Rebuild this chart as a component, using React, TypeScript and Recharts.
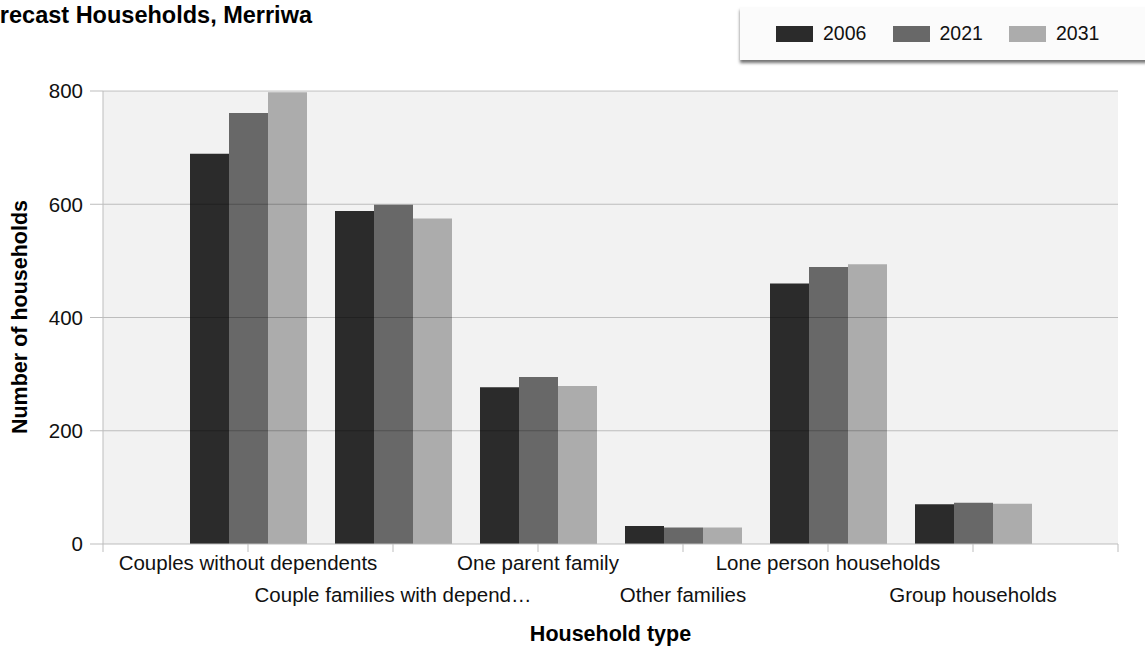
import React from 'react';
import { BarChart, Bar, XAxis, YAxis, CartesianGrid, ReferenceLine, Legend } from 'recharts';

const categories = [
  'Couples without dependents',
  'Couple families with depend…',
  'One parent family',
  'Other families',
  'Lone person households',
  'Group households',
];
const values2006 = [689, 588, 277, 32, 460, 70];
const values2021 = [761, 599, 295, 29, 489, 73];
const values2031 = [798, 575, 279, 29, 494, 71];
const seriesKeys = ['s2006', 's2021', 's2031'];
const seriesNames = ['2006', '2021', '2031'];
const seriesColors = ['#2b2b2b', '#686868', '#acacac'];
const yTicks = [0, 200, 400, 600, 800];
const gridValues = [200, 400, 600, 800];

const data = categories.map((name, i) => ({
  name,
  s2006: values2006[i],
  s2021: values2021[i],
  s2031: values2031[i],
}));

const FONT = "'Liberation Sans', Arial, sans-serif";
const W = 1145;
const H = 648;
const STEP = 145;

const XTick = (props: any) => {
  const { x, y, payload, index } = props;
  const row = index % 2;
  const last = index === categories.length - 1;
  return (
    <g>
      {index === 0 && (
        <line x1={x - STEP} x2={x - STEP} y1={y - 11} y2={y - 3} stroke="#bdbdbd" />
      )}
      {last && <line x1={x + STEP} x2={x + STEP} y1={y - 11} y2={y - 3} stroke="#bdbdbd" />}
      <text
        x={x}
        y={y + row * 32}
        dy="0.71em"
        textAnchor="middle"
        fontSize={20.5}
        fontFamily={FONT}
        fill="#111"
      >
        {payload.value}
      </text>
    </g>
  );
};

const LegendBox = () => (
  <div
    style={{
      width: 420,
      height: 53,
      background: '#fbfbfb',
      boxShadow: '0 3px 3px rgba(0,0,0,0.55)',
      display: 'flex',
      alignItems: 'center',
      paddingLeft: 36,
      boxSizing: 'border-box',
      fontFamily: FONT,
      fontSize: 19.5,
      color: '#111',
    }}
  >
    {seriesNames.map((n, i) => (
      <div key={n} style={{ width: 116.5, display: 'flex', alignItems: 'center' }}>
        <div style={{ width: 37, height: 16, background: seriesColors[i], marginRight: 10 }} />
        <span>{n}</span>
      </div>
    ))}
  </div>
);

export default function App() {
  return (
    <div
      style={{
        position: 'absolute',
        left: 0,
        top: 0,
        width: W,
        height: H,
        overflow: 'hidden',
        background: '#fff',
      }}
    >
      <BarChart
        width={W}
        height={H}
        data={data}
        margin={{ top: 91, right: 27, bottom: 0, left: 0 }}
        barCategoryGap="10%"
        barGap={0}
      >
        <CartesianGrid fill="#f2f2f2" horizontal={false} vertical={false} />
        <XAxis
          dataKey="name"
          type="category"
          interval={0}
          height={104}
          padding={{ left: 72.5, right: 72.5 }}
          axisLine={{ stroke: '#bdbdbd' }}
          tickLine={{ stroke: '#bdbdbd' }}
          tickSize={8}
          tickMargin={3}
          tick={<XTick />}
        />
        <YAxis
          width={103}
          domain={[0, 800]}
          ticks={yTicks}
          axisLine={{ stroke: '#bdbdbd' }}
          tickLine={{ stroke: '#bdbdbd' }}
          tickSize={13}
          tickMargin={7}
          tick={{ fontSize: 20.5, fontFamily: FONT, fill: '#111' }}
        />
        {seriesKeys.map((k, i) => (
          <Bar
            key={k}
            dataKey={k}
            name={seriesNames[i]}
            fill={seriesColors[i]}
            isAnimationActive={false}
          />
        ))}
        {gridValues.map((v) => (
          <ReferenceLine key={v} y={v} stroke="rgba(0,0,0,0.22)" strokeWidth={1} />
        ))}
        <Legend
          layout="horizontal"
          verticalAlign="middle"
          align="center"
          content={<LegendBox />}
          wrapperStyle={{ left: 740, top: 7, width: 420, height: 53 }}
        />
      </BarChart>
      <svg
        width={W}
        height={H}
        style={{ position: 'absolute', left: 0, top: 0, pointerEvents: 'none' }}
      >
        <text x={312} y={23} textAnchor="end" fontSize={23.5} fontWeight="bold" fontFamily={FONT} fill="#000">
          Forecast Households, Merriwa
        </text>
        <text x={610.5} y={641} textAnchor="middle" fontSize={21.5} fontWeight="bold" fontFamily={FONT} fill="#000">
          Household type
        </text>
        <text
          x={27}
          y={317}
          transform="rotate(-90 27 317)"
          textAnchor="middle"
          fontSize={21.5}
          fontWeight="bold"
          fontFamily={FONT}
          fill="#000"
        >
          Number of households
        </text>
      </svg>
    </div>
  );
}
